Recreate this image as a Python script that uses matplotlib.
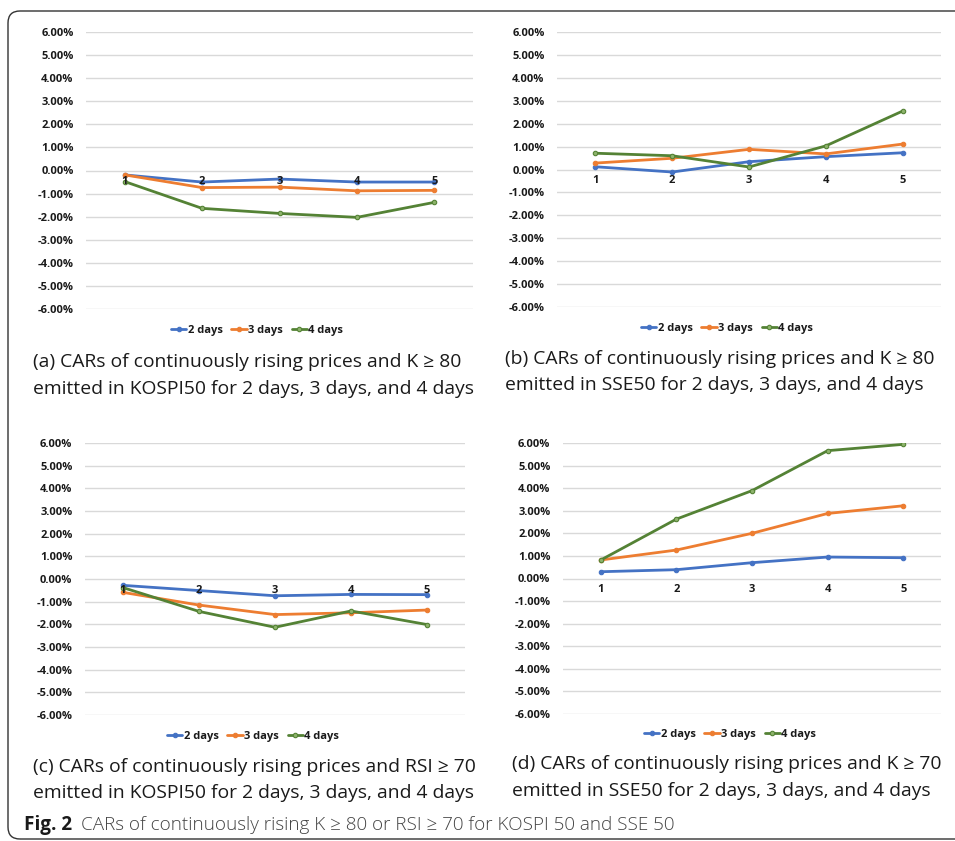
import matplotlib
matplotlib.use("Agg")
import matplotlib.pyplot as plt
from matplotlib.ticker import FuncFormatter, FixedLocator
from matplotlib.patches import FancyBboxPatch
from matplotlib.transforms import IdentityTransform

W, H = 955, 841
DPI = 100

days = [1, 2, 3, 4, 5]
series_names = ["2 days", "3 days", "4 days"]

# (a) K >= 80, KOSPI50
a_2 = [-0.19, -0.50, -0.37, -0.50, -0.50]
a_3 = [-0.19, -0.74, -0.72, -0.88, -0.86]
a_4 = [-0.48, -1.64, -1.86, -2.03, -1.38]
# (b) K >= 80, SSE50
b_2 = [0.12, -0.11, 0.34, 0.56, 0.73]
b_3 = [0.28, 0.49, 0.88, 0.68, 1.11]
b_4 = [0.71, 0.60, 0.11, 1.03, 2.55]
# (c) RSI >= 70, KOSPI50
c_2 = [-0.28, -0.51, -0.74, -0.68, -0.69]
c_3 = [-0.59, -1.15, -1.57, -1.49, -1.37]
c_4 = [-0.38, -1.43, -2.13, -1.41, -2.01]
# (d) K >= 70, SSE50
d_2 = [0.30, 0.39, 0.70, 0.95, 0.92]
d_3 = [0.82, 1.26, 2.00, 2.88, 3.22]
d_4 = [0.82, 2.63, 3.89, 5.66, 5.94]

y_ticks = [-6, -5, -4, -3, -2, -1, 0, 1, 2, 3, 4, 5, 6]

captions = [
    "(a) CARs of continuously rising prices and K \u2265 80\nemitted in KOSPI50 for 2 days, 3 days, and 4 days",
    "(b) CARs of continuously rising prices and K \u2265 80\nemitted in SSE50 for 2 days, 3 days, and 4 days",
    "(c) CARs of continuously rising prices and RSI \u2265 70\nemitted in KOSPI50 for 2 days, 3 days, and 4 days",
    "(d) CARs of continuously rising prices and K \u2265 70\nemitted in SSE50 for 2 days, 3 days, and 4 days",
]
fig_label = "Fig. 2"
fig_caption = "CARs of continuously rising K \u2265 80 or RSI \u2265 70 for KOSPI 50 and SSE 50"

colors = ["#4472C4", "#ED7D31", "#548235"]
face = ["#4472C4", "#ED7D31", "#8DB36B"]

fig = plt.figure(figsize=(W / DPI, H / DPI), dpi=DPI)
fig.patch.set_facecolor("white")

chart_font = ["Open Sans", "DejaVu Sans"]
cap_font = ["Open Sans", "DejaVu Sans"]

panels = [
    dict(box=(86, 473, 32, 309), leg=(257, 330), cap=(33, 362), data=(a_2, a_3, a_4), text=captions[0]),
    dict(box=(557, 941, 32, 307), leg=(727, 328), cap=(505, 359), data=(b_2, b_3, b_4), text=captions[1]),
    dict(box=(85, 465, 443, 715), leg=(253, 736), cap=(33, 767), data=(c_2, c_3, c_4), text=captions[2]),
    dict(box=(563, 941, 443, 714), leg=(730, 734), cap=(512, 764), data=(d_2, d_3, d_4), text=captions[3]),
]

fmt = FuncFormatter(lambda v, p: f"{v:.2f}%")
TICK_FS = 8.0

for p in panels:
    x0, x1, yt, yb = p["box"]
    ax = fig.add_axes([x0 / W, 1 - yb / H, (x1 - x0) / W, (yb - yt) / H])
    ax.set_facecolor("none")
    for yv in y_ticks:
        ax.axhline(yv, color="#D9D9D9", lw=1.0, zorder=1)
    lines = []
    for vals, c, fc, name in zip(p["data"], colors, face, series_names):
        ln, = ax.plot(days, vals, color=c, lw=2.0, marker="o", ms=3.2,
                      markerfacecolor=fc, markeredgecolor=c, markeredgewidth=0.8,
                      label=name, solid_capstyle="round", zorder=2)
        lines.append(ln)
    ax.set_xlim(0.5, 5.5)
    ax.set_ylim(-6, 6)
    ax.yaxis.set_major_locator(FixedLocator(y_ticks))
    ax.yaxis.set_major_formatter(fmt)
    ax.set_xticks(days)
    ax.set_xticklabels([str(d) for d in days])
    ax.set_axisbelow(False)
    for s in ["top", "right", "left"]:
        ax.spines[s].set_visible(False)
    ax.spines["bottom"].set_position(("data", 0))
    ax.spines["bottom"].set_visible(False)
    ax.tick_params(axis="both", length=0)
    ax.tick_params(axis="y", pad=9)
    ax.tick_params(axis="x", pad=4)
    for lab in ax.get_yticklabels() + ax.get_xticklabels():
        lab.set_fontfamily(chart_font)
        lab.set_fontweight("bold")
        lab.set_fontsize(TICK_FS)
        lab.set_color("#1a1a1a")
    lx, ly = p["leg"]
    leg = fig.legend(handles=lines, loc="center", bbox_to_anchor=(lx / W, 1 - ly / H),
                     ncol=3, frameon=False, handlelength=1.4, handletextpad=0.1,
                     columnspacing=0.8, borderaxespad=0, borderpad=0,
                     prop=dict(family=chart_font, weight="bold", size=TICK_FS))
    for t in leg.get_texts():
        t.set_color("#1a1a1a")
    cx, cy = p["cap"]
    l1, l2 = p["text"].split("\n")
    fig.text(cx / W, 1 - cy / H, l1, ha="left", va="center",
             fontsize=13.9, family=cap_font, color="#1a1a1a")
    fig.text(cx / W, 1 - (cy + 26.5) / H, l2, ha="left", va="center",
             fontsize=13.9, family=cap_font, color="#1a1a1a")

# figure caption
t1 = fig.text(24 / W, 1 - 825 / H, fig_label, ha="left", va="center", fontsize=13.6,
              family=cap_font, weight="bold", color="#1a1a1a")
fig.canvas.draw()
bb = t1.get_window_extent()
fig.text((bb.x1 + 9) / W, 1 - 825 / H, fig_caption, ha="left", va="center", fontsize=13.6,
         family=cap_font, weight="light", color="#444444")

# outer rounded frame (extends past right edge)
frame = FancyBboxPatch((8, 2), 1000, H - 11 - 2, boxstyle="round,pad=0,rounding_size=12",
                       transform=IdentityTransform(), fill=False, edgecolor="#333333", lw=1.0)
fig.add_artist(frame)

fig.savefig("out.png", dpi=DPI, facecolor="white")
